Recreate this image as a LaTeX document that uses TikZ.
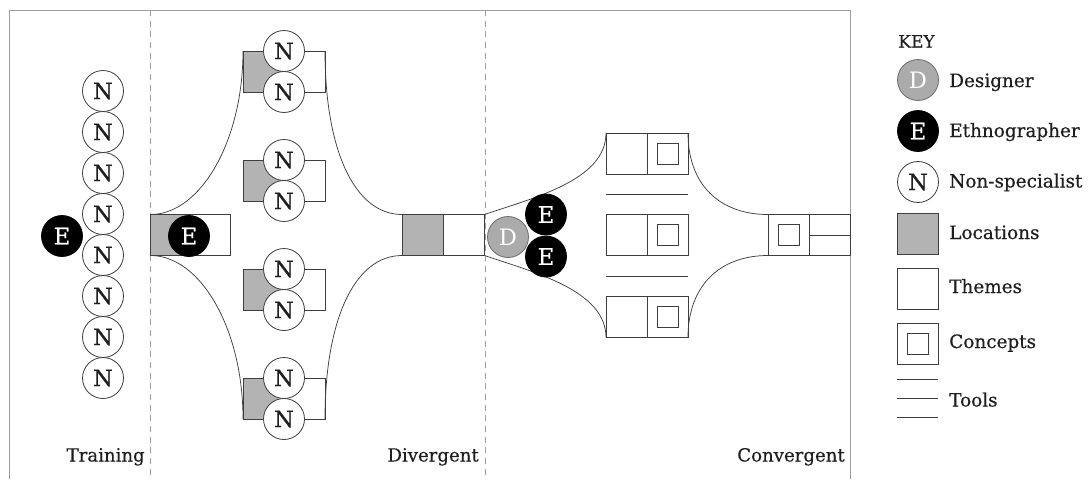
\documentclass[tikz,border=0pt]{standalone}
\usepackage{fontspec}
\setmainfont{DejaVu Serif}
\newfontfamily\labelfont[FakeBold=0.35]{DejaVu Serif}
\newfontfamily\letterfont[FakeBold=0.7]{DejaVu Serif}
\definecolor{ink}{HTML}{3E3E3E}
\definecolor{frame}{HTML}{9C9C9C}
\definecolor{locgray}{HTML}{B3B3B3}
\definecolor{desgray}{HTML}{ABABAB}
\definecolor{desedge}{HTML}{6E6E6E}
\definecolor{txt}{HTML}{1E1E1E}
\begin{document}
\begin{tikzpicture}[x=0.75pt,y=-0.75pt,
  person/.style={circle,minimum size=30.75pt,inner sep=0pt,outer sep=0pt,line width=0.6pt,
    font=\letterfont\fontsize{17}{19}\selectfont},
  nsp/.style={person,draw=ink,fill=white,text=txt},
  eth/.style={person,draw=black,fill=black,text=white},
  des/.style={person,draw=desedge,fill=desgray,text=white,font=\fontsize{17}{19}\selectfont},
  box/.style={rectangle,minimum width=30.75pt,minimum height=30.75pt,inner sep=0pt,outer sep=0pt,
    draw=ink,line width=0.6pt},
  locbox/.style={box,fill=locgray},
  themebox/.style={box,fill=white},
  innersq/.style={rectangle,minimum size=15.75pt,inner sep=0pt,outer sep=0pt,draw=ink,line width=0.6pt},
  link/.style={draw=ink,line width=0.55pt},
  tool/.style={draw=ink,line width=0.6pt},
  phase/.style={anchor=base east,inner sep=0pt,text=txt,font=\labelfont\fontsize{13.6}{16}\selectfont},
  keytext/.style={anchor=base west,inner sep=0pt,text=txt,font=\labelfont\fontsize{13.8}{16}\selectfont},
  divider/.style={draw=frame,line width=0.6pt,dash pattern=on 4.5pt off 3.5pt}]
\useasboundingbox (0,0) rectangle (1090,479);
\fill[white] (0,0) rectangle (1090,479);

% frame and phase dividers
\draw[frame,line width=0.7pt] (9.5,479) -- (9.5,10) -- (850.5,10) -- (850.5,479);
\draw[divider] (150.5,10) -- (150.5,479);
\draw[divider] (485,10) -- (485,479);

% ---- Training ----
\foreach \k in {0,...,7} {
  \node[nsp] (tr\k) at (103,91+41*\k) {N};
}
\node[eth] (trE) at (62,236) {E};
\node[phase] (lblT) at (145,461.5) {Training};

% ---- Divergent ----
\node[locbox,minimum width=30pt] (loc0) at (170.5,235) {};
\node[themebox,minimum width=29.5pt] (th0) at (210.5,235) {};
\node[eth] (e0) at (189,236) {E};

\foreach \g/\yc in {1/71.5,2/180.5,3/289.5,4/398.5} {
  \node[locbox] (dL\g) at (263.5,\yc) {};
  \node[themebox] (dT\g) at (304.5,\yc) {};
  \node[nsp] (dNa\g) at (284,\yc-20.5) {N};
  \node[nsp] (dNb\g) at (284,\yc+20.5) {N};
}
\node[locbox] (locM) at (422.5,235) {};
\node[themebox] (tM) at (464,235) {};

\draw[link] (loc0.north west) .. controls +(50,0) and +(0,90) .. (dL1.north west);
\draw[link] (loc0.south west) .. controls +(50,0) and +(0,-90) .. (dL4.south west);
\draw[link] (dT1.north east) .. controls +(0,100) and +(-47,0) .. (locM.north west);
\draw[link] (dT4.south east) .. controls +(0,-100) and +(-47,0) .. (locM.south west);
\node[phase] (lblD) at (479,461.5) {Divergent};

% ---- Convergent ----
\foreach \r/\yc in {1/153.5,2/235,3/317} {
  \node[themebox] (cT\r) at (626.5,\yc) {};
  \node[themebox] (cC\r) at (667.5,\yc) {};
  \node[innersq] (cI\r) at (cC\r) {};
}
\draw[link] (tM.north east) .. controls +(50,-17) and +(0,47) .. (cT1.north west);
\draw[link] (tM.south east) .. controls +(50,17) and +(0,-47) .. (cT3.south west);
\coordinate (tlA1) at (606,194.5);
\coordinate (tlA2) at (688,194.5);
\coordinate (tlB1) at (606,276);
\coordinate (tlB2) at (688,276);
\draw[tool] (tlA1) -- (tlA2);
\draw[tool] (tlB1) -- (tlB2);

\node[des] (cD) at (508,237) {D};
\node[eth] (cE1) at (546,214.5) {E};
\node[eth] (cE2) at (546,256.5) {E};

\node[themebox] (cF) at (788.5,235) {};
\node[innersq] (cFi) at (cF) {};
\node[themebox] (cG) at (829.5,235) {};
\draw[tool] (cG.west) -- (cG.east);

\draw[link] (cC1.north east) .. controls +(0,52) and +(-48,0) .. (cF.north west);
\draw[link] (cC3.south east) .. controls +(0,-52) and +(-48,0) .. (cF.south west);
\node[phase] (lblC) at (845,461.5) {Convergent};

% ---- Key ----
\node[anchor=base west,inner sep=0pt,text=txt,font=\labelfont\fontsize{12.8}{14}\selectfont] (keyT) at (898,47.5) {KEY};
\node[des] (kD) at (918,80) {D};
\node[keytext] (kDt) at (949,87) {Designer};
\node[eth] (kE) at (918,131) {E};
\node[keytext] (kEt) at (949,137) {Ethnographer};
\node[nsp] (kN) at (918,182) {N};
\node[keytext] (kNt) at (949,187.5) {Non-specialist};
\node[locbox] (kL) at (917.5,234) {};
\node[keytext] (kLt) at (949,239) {Locations};
\node[themebox] (kT) at (917.5,288.5) {};
\node[keytext] (kTt) at (949,293) {Themes};
\node[themebox] (kC) at (917.5,343.5) {};
\node[innersq] (kCi) at (kC) {};
\node[keytext] (kCt) at (949,348) {Concepts};
\coordinate (kTlA) at (897,379.5);
\coordinate (kTlB) at (938,379.5);
\coordinate (kTlC) at (897,398.5);
\coordinate (kTlD) at (938,398.5);
\coordinate (kTlE) at (897,417.5);
\coordinate (kTlF) at (938,417.5);
\draw[tool] (kTlA) -- (kTlB);
\draw[tool] (kTlC) -- (kTlD);
\draw[tool] (kTlE) -- (kTlF);
\node[keytext] (kTlt) at (949,406.5) {Tools};
\end{tikzpicture}
\end{document}
